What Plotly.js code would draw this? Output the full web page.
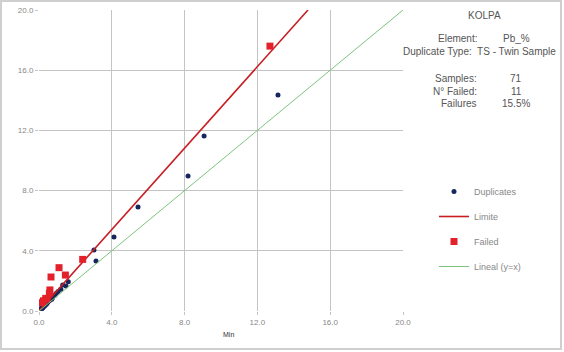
<!DOCTYPE html>
<html>
<head>
<meta charset="utf-8">
<script src="https://cdn.plot.ly/plotly-3.0.1.min.js"></script>
<style>
  html, body { margin: 0; padding: 0; background: #fff; }
  #wrap { position: relative; width: 564px; height: 352px; }
  #chart { position: absolute; left: 0; top: 0; width: 564px; height: 352px; }
  #frame { position: absolute; left: 0; top: 0; width: 558px; height: 346px; border: 2px solid #cfcfcf; pointer-events: none; }
</style>
</head>
<body>
<div id="wrap"><div id="chart"></div><div id="frame"></div></div>
<script>
// Duplicates (passed) : Min vs Max
var dupMin = [13.13, 9.07, 8.19, 5.44, 4.12, 3.02, 3.13, 1.61, 1.48, 1.30, 1.20, 1.05, 0.95, 0.88, 0.80,
              0.75, 0.68, 0.62, 0.58, 0.52, 0.48, 0.45, 0.42, 0.38, 0.35, 0.32, 0.30, 0.27, 0.25, 0.22,
              0.20, 0.18, 0.16, 0.15, 0.13, 0.12, 0.11, 0.10, 0.09, 0.08, 0.07, 0.06, 0.05, 0.05, 0.04,
              0.04, 0.03, 0.03, 0.02, 0.02, 0.02, 0.01, 0.01, 0.01, 0.20, 0.30, 0.15, 0.40, 0.10, 0.70];
var dupMax = [14.35, 11.63, 8.97, 6.91, 4.92, 4.05, 3.32, 1.95, 1.66, 1.73, 1.45, 1.30, 1.18, 1.05, 1.00,
              0.90, 0.85, 0.75, 0.70, 0.65, 0.58, 0.55, 0.50, 0.46, 0.42, 0.38, 0.36, 0.32, 0.30, 0.27,
              0.24, 0.22, 0.20, 0.18, 0.16, 0.14, 0.13, 0.12, 0.11, 0.10, 0.08, 0.07, 0.06, 0.06, 0.05,
              0.05, 0.04, 0.04, 0.03, 0.03, 0.02, 0.02, 0.01, 0.01, 0.22, 0.33, 0.17, 0.45, 0.12, 0.78];
// Failed pairs
var failMin = [12.69, 2.40, 1.10, 1.45, 0.66, 0.60, 0.57, 0.37, 0.24, 0.45, 0.18];
var failMax = [17.60, 3.43, 2.88, 2.39, 2.26, 1.40, 1.18, 0.84, 0.68, 0.80, 0.55];
// Limit line and identity line
var limitX = [0, 14.78];
var limitY = [0, 20];
var linX = [0, 20];
var linY = [0, 20];
// Axis ticks
var tickVals = [0, 4, 8, 12, 16, 20];
var tickText = ["0.0", "4.0", "8.0", "12.0", "16.0", "20.0"];
// Info panel
var infoLabels = ["Element:", "Samples:", "N\u00b0 Failed:", "Failures"];
var infoValues = ["Pb_%", "71", "11", "15.5%"];
var chartTitle = "KOLPA";
var dupType = "Duplicate Type:  TS - Twin Sample";

var L = 39, R = 403, T = 10, B = 311;
function px(x) { return (x - L) / (R - L); }
function py(y) { return (B - y) / (B - T); }

var font = "Liberation Sans, Arial, sans-serif";

var traces = [
  { x: dupMin, y: dupMax, mode: 'markers', type: 'scatter', name: 'Duplicates', legendgroup: 'a',
    marker: { color: '#17275e', size: 5, symbol: 'circle' } },
  { x: limitX, y: limitY, mode: 'lines', type: 'scatter', name: 'Limite', legendgroup: 'b',
    line: { color: '#c81e23', width: 1.6 } },
  { x: failMin, y: failMax, mode: 'markers', type: 'scatter', name: 'Failed', legendgroup: 'c',
    marker: { color: '#e3212b', size: 7, symbol: 'square' } },
  { x: linX, y: linY, mode: 'lines', type: 'scatter', name: 'Lineal (y=x)', legendgroup: 'd',
    line: { color: '#7cc47c', width: 1 } }
];

var labelY = [39, 79, 91, 103];
var ann = [
  { text: chartTitle, x: px(484), y: py(15), xref: 'paper', yref: 'paper', showarrow: false,
    xanchor: 'center', yanchor: 'middle', font: { family: font, size: 10, color: '#555' } },
  { text: dupType, x: px(479), y: py(51), xref: 'paper', yref: 'paper', showarrow: false,
    xanchor: 'center', yanchor: 'middle', font: { family: font, size: 10, color: '#555' } },
  { text: "Min", x: px(228), y: py(334), xref: 'paper', yref: 'paper', showarrow: false,
    xanchor: 'center', yanchor: 'middle', font: { family: font, size: 7, color: '#333' } }
];
for (var i = 0; i < infoLabels.length; i++) {
  ann.push({ text: infoLabels[i], x: px(479), y: py(labelY[i]), xref: 'paper', yref: 'paper', showarrow: false,
    xanchor: 'right', yanchor: 'middle', font: { family: font, size: 10, color: '#555' } });
  ann.push({ text: infoValues[i], x: px(516), y: py(labelY[i]), xref: 'paper', yref: 'paper', showarrow: false,
    xanchor: 'center', yanchor: 'middle', font: { family: font, size: 10, color: '#555' } });
}

var axisCommon = {
  range: [0, 20], tickvals: tickVals, ticktext: tickText,
  showgrid: true, gridcolor: '#c4c4c4', gridwidth: 1,
  zeroline: false, showline: false,
  ticks: 'outside', ticklen: 3, tickcolor: '#c4c4c4',
  tickfont: { family: font, size: 8, color: '#888' },
  fixedrange: true
};

var layout = {
  width: 564, height: 352,
  margin: { l: L, r: 564 - R, t: T, b: 352 - B, pad: 0 },
  paper_bgcolor: '#fff', plot_bgcolor: '#fff',
  showlegend: true,
  legend: { x: px(434), y: py(177), xanchor: 'left', yanchor: 'top',
    font: { family: font, size: 9, color: '#888' }, tracegroupgap: 6, itemwidth: 30,
    bgcolor: 'rgba(0,0,0,0)' },
  xaxis: Object.assign({}, axisCommon),
  yaxis: Object.assign({}, axisCommon),
  annotations: ann
};

Plotly.newPlot('chart', traces, layout, { displayModeBar: false, staticPlot: true });
</script>
</body>
</html>
